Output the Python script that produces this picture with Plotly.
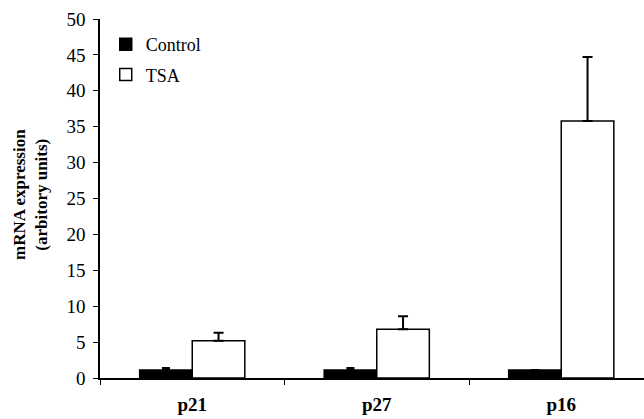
import plotly.graph_objects as go

categories = ["p21", "p27", "p16"]
control_values = [1.1, 1.1, 1.1]
control_errors = [0.3, 0.3, 0.0]
tsa_values = [5.2, 6.8, 35.8]
tsa_errors = [1.1, 1.8, 8.9]
y_ticks = [0, 5, 10, 15, 20, 25, 30, 35, 40, 45, 50]

FONT = "Liberation Serif"

FIG_W, FIG_H = 644, 419
L, T = 100, 19
PLOT_BOTTOM = 378
PLOT_H = PLOT_BOTTOM - T
B = FIG_H - PLOT_BOTTOM
PLOT_W = FIG_W - L
CAT_PX = 184.5
X_END = -0.5 + PLOT_W / CAT_PX

fig = go.Figure()
fig.add_trace(go.Bar(
    name="Control", x=categories, y=control_values,
    marker=dict(color="black", line=dict(color="black", width=1.5)),
    error_y=dict(type="data", array=control_errors, symmetric=False,
                 arrayminus=[0, 0, 0], visible=True,
                 color="black", thickness=2, width=4),
    legendgroup="a",
))
fig.add_trace(go.Bar(
    name="TSA", x=categories, y=tsa_values,
    marker=dict(color="white", line=dict(color="black", width=1.5)),
    error_y=dict(type="data", array=tsa_errors, symmetric=False,
                 arrayminus=[0, 0, 0], visible=True,
                 color="black", thickness=2, width=5),
    legendgroup="b",
))

fig.add_annotation(
    text="<b>mRNA expression<br>(arbitory units)</b>",
    xref="paper", yref="paper", x=(31 - 100) / PLOT_W, y=0.51,
    xanchor="center", yanchor="middle", textangle=-90, showarrow=False,
    font=dict(family=FONT, size=17, color="black"),
)

fig.update_layout(
    width=FIG_W, height=FIG_H,
    margin=dict(l=L, r=0, t=T, b=B, autoexpand=False),
    paper_bgcolor="white", plot_bgcolor="white",
    barmode="group", bargap=0.43, bargroupgap=0,
    font=dict(family=FONT, color="black"),
    showlegend=True,
    legend=dict(x=0.005 + 3 / PLOT_W, y=1.0 - 7 / PLOT_H,
                xanchor="left", yanchor="top",
                xref="paper", yref="paper",
                bgcolor="rgba(0,0,0,0)", tracegroupgap=4,
                font=dict(family=FONT, size=18, color="black"),
                itemwidth=30),
    xaxis=dict(
        range=[-0.5, X_END], automargin=False,
        showline=True, linecolor="black", linewidth=1.5,
        ticks="outside", tickson="boundaries", ticklen=5, tickcolor="black",
        ticklabelstandoff=8,
        tickfont=dict(family=FONT, size=19, color="black", weight="bold"),
        showgrid=False, zeroline=False,
    ),
    yaxis=dict(
        range=[0, 50], tickvals=y_ticks, automargin=False,
        showline=True, linecolor="black", linewidth=1.5,
        ticks="outside", ticklen=5, tickcolor="black", ticklabelstandoff=4,
        tickfont=dict(family=FONT, size=19, color="black"),
        showgrid=False, zeroline=False,
    ),
)

fig.write_html(
    "out.html",
    config={"displayModeBar": False},
    post_script="document.body.style.margin='0';document.body.style.overflow='hidden';",
)
